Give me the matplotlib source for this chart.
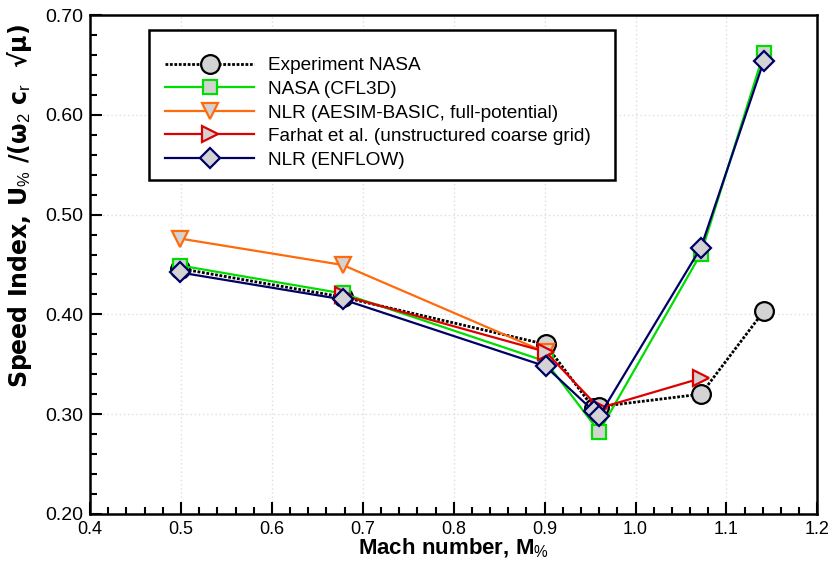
import matplotlib
matplotlib.use("Agg")
import matplotlib.pyplot as plt
from matplotlib.patches import Rectangle
from matplotlib.ticker import MultipleLocator, FormatStrFormatter

# Flutter speed index vs Mach number, AGARD 445.6 wing
mach_exp = [0.499, 0.678, 0.901, 0.954, 0.960, 1.072, 1.141]
fsi_exp = [0.4459, 0.4174, 0.3700, 0.3059, 0.3076, 0.3201, 0.4031]

mach_cfl3d = [0.499, 0.678, 0.901, 0.960, 1.072, 1.141]
fsi_cfl3d = [0.449, 0.421, 0.353, 0.2825, 0.461, 0.6616]

mach_aesim = [0.499, 0.678, 0.901]
fsi_aesim = [0.476, 0.4495, 0.362]

mach_farhat = [0.678, 0.901, 0.960, 1.072]
fsi_farhat = [0.419, 0.3626, 0.306, 0.336]

mach_enflow = [0.499, 0.678, 0.901, 0.954, 0.960, 1.072, 1.141]
fsi_enflow = [0.442, 0.4150, 0.348, 0.303, 0.298, 0.467, 0.6535]

labels = [
    "Experiment NASA",
    "NASA (CFL3D)",
    "NLR (AESIM-BASIC, full-potential)",
    "Farhat et al. (unstructured coarse grid)",
    "NLR (ENFLOW)",
]

plt.rcParams["font.family"] = ["Liberation Sans", "DejaVu Sans"]
plt.rcParams["mathtext.fontset"] = "custom"
plt.rcParams["mathtext.rm"] = "Liberation Sans"
plt.rcParams["mathtext.it"] = "Liberation Sans"
plt.rcParams["mathtext.bf"] = "Liberation Sans:bold"

W, H = 834, 567
fig = plt.figure(figsize=(W / 100, H / 100), dpi=100)
ax = fig.add_axes([0.108, 0.0935, 0.872, 0.880])

face = "#d3d3d3"
common = dict(markerfacecolor=face, markeredgewidth=1.6, linewidth=1.6)

ax.plot(mach_exp, fsi_exp, color="black", linestyle=(0, (1.0, 0.6)), linewidth=2.0,
        marker="o", markersize=13.5, markerfacecolor=face, markeredgecolor="black",
        markeredgewidth=1.6, label=labels[0], zorder=3)
ax.plot(mach_cfl3d, fsi_cfl3d, color="#00dd00", marker="s", markersize=9.5,
        markeredgecolor="#00dd00", label=labels[1], zorder=4, **common)
ax.plot(mach_aesim, fsi_aesim, color="#ff6a0d", marker="v", markersize=11.5,
        markeredgecolor="#ff6a0d", label=labels[2], zorder=5, **common)
ax.plot(mach_farhat, fsi_farhat, color="#dd0000", marker=">", markersize=11.5,
        markeredgecolor="#dd0000", label=labels[3], zorder=6, **common)
ax.plot(mach_enflow, fsi_enflow, color="#000066", marker="D", markersize=10,
        markeredgecolor="#000066", label=labels[4], zorder=7, **common)

ax.set_xlim(0.4, 1.2)
ax.set_ylim(0.2, 0.7)
ax.xaxis.set_major_locator(MultipleLocator(0.1))
ax.xaxis.set_minor_locator(MultipleLocator(0.02))
ax.yaxis.set_major_locator(MultipleLocator(0.1))
ax.yaxis.set_minor_locator(MultipleLocator(0.02))
ax.xaxis.set_major_formatter(FormatStrFormatter("%.1f"))
ax.yaxis.set_major_formatter(FormatStrFormatter("%.2f"))

ax.tick_params(which="major", direction="in", length=8.5, width=1.5,
               top=False, right=False)
ax.tick_params(which="minor", direction="in", length=5, width=1.5,
               top=False, right=False)
ax.tick_params(axis="x", labelsize=13, pad=5)
ax.tick_params(axis="y", labelsize=14, pad=5)

for s in ax.spines.values():
    s.set_linewidth(1.8)

ax.grid(True, which="major", color="#dddddd", linestyle=(0, (1, 2)), linewidth=1.0)
ax.set_axisbelow(True)

ax.set_xlabel(r"Mach number, M$_{\%}$", fontsize=16, fontweight="bold", labelpad=-1)
ax.set_ylabel(r"Speed Index, U$_{\%}$ /(ω$_2$ c$_r$  √μ)", fontsize=17,
              fontweight="bold", family="DejaVu Sans")
ax.yaxis.set_label_coords(-0.077, 0.617)

# legend entries without a frame; the frame is drawn as a separate box
leg = ax.legend(loc="upper left", bbox_to_anchor=(165 / W, 1 - 57 / H),
                bbox_transform=fig.transFigure, fontsize=13.7,
                handlelength=4.7, handletextpad=0.7, labelspacing=0.33,
                borderpad=0, borderaxespad=0, frameon=False)
leg.set_zorder(21)
box = Rectangle((149 / W, 1 - 180 / H), (615 - 149) / W, (180 - 30) / H,
                transform=fig.transFigure, facecolor="white", edgecolor="black",
                linewidth=1.8, zorder=19, clip_on=False)
ax.add_artist(box)

fig.savefig("out.png", dpi=100)
